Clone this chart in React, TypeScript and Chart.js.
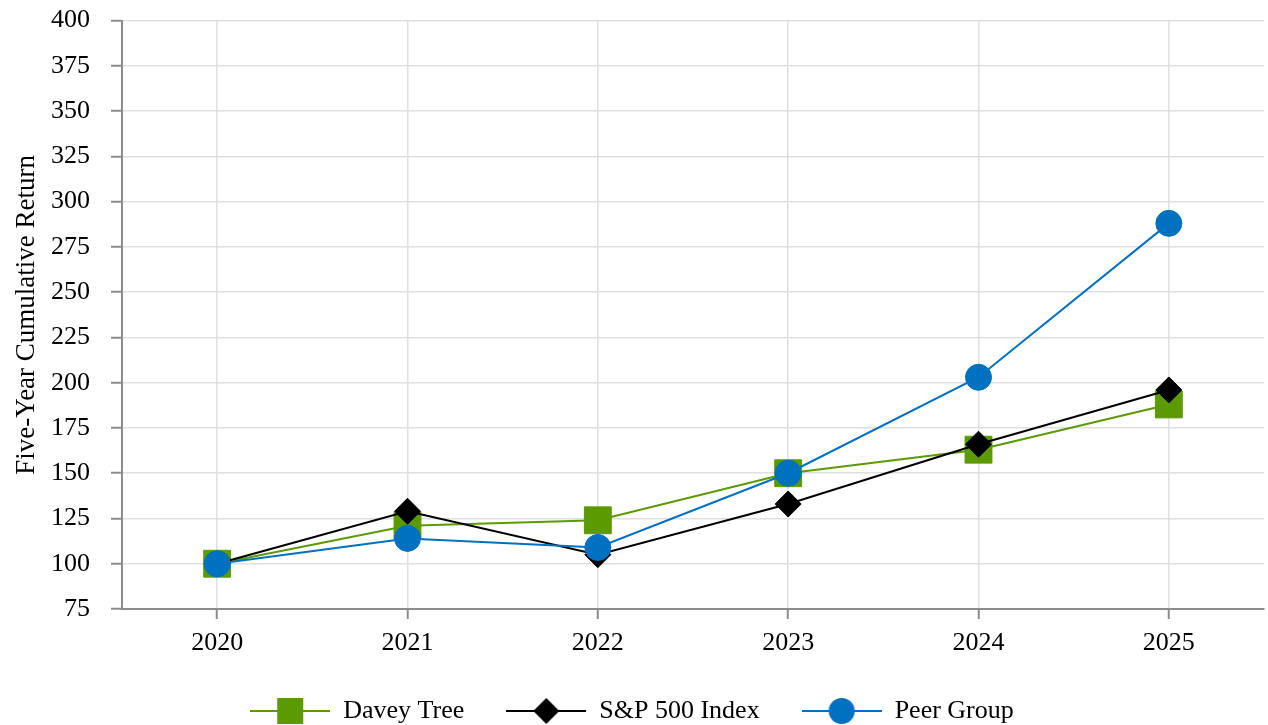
import React, { useEffect, useRef } from 'react';
import { Chart, registerables } from 'chart.js';

Chart.register(...registerables);

const years = ['2020', '2021', '2022', '2023', '2024', '2025'];
const daveyTree = [100, 121, 124, 150, 163, 188];
const sp500 = [100, 129, 105, 133, 166, 196];
const peerGroup = [100, 114, 109, 150, 203, 288];
const yMin = 75;
const yMax = 400;
const yStep = 25;
const seriesNames = ['Davey Tree', 'S&P 500 Index', 'Peer Group'];

const GREEN = '#5B9A00';
const BLACK = '#000000';
const BLUE = '#0070C0';
const FONT = "'Liberation Serif', 'Times New Roman', serif";

function makeIcon(color: string, style: string): HTMLCanvasElement {
  const c = document.createElement('canvas');
  c.width = 80;
  c.height = 28;
  const ctx = c.getContext('2d')!;
  ctx.strokeStyle = color;
  ctx.lineWidth = 2;
  ctx.beginPath();
  ctx.moveTo(0, 14);
  ctx.lineTo(80, 14);
  ctx.stroke();
  ctx.fillStyle = color;
  if (style === 'rect') {
    ctx.fillRect(27, 1, 26, 26);
  } else if (style === 'rectRot') {
    ctx.beginPath();
    ctx.moveTo(40, 1);
    ctx.lineTo(53, 14);
    ctx.lineTo(40, 27);
    ctx.lineTo(27, 14);
    ctx.closePath();
    ctx.fill();
  } else {
    ctx.beginPath();
    ctx.arc(40, 14, 13, 0, Math.PI * 2);
    ctx.fill();
  }
  return c;
}

export default function App() {
  const ref = useRef<HTMLCanvasElement | null>(null);

  useEffect(() => {
    if (!ref.current) return;
    const colors = [GREEN, BLACK, BLUE];
    const styles = ['rect', 'rectRot', 'circle'];
    const radii = [19, 13, 13];
    const values = [daveyTree, sp500, peerGroup];
    const icons = colors.map((c, i) => makeIcon(c, styles[i]));

    const chart = new Chart(ref.current, {
      type: 'line',
      data: {
        labels: years,
        datasets: values.map((v, i) => ({
          label: seriesNames[i],
          data: v,
          borderColor: colors[i],
          backgroundColor: colors[i],
          borderWidth: 2,
          pointStyle: styles[i] as any,
          pointRadius: radii[i],
          pointBorderWidth: 1,
          pointBackgroundColor: colors[i],
          pointBorderColor: colors[i],
          tension: 0,
          fill: false,
          clip: false as any,
          order: 3 - i,
        })),
      },
      options: {
        responsive: false,
        animation: false,
        layout: { autoPadding: false, padding: { top: 4, right: 4, left: 0, bottom: -9 } },
        plugins: {
          tooltip: { enabled: false },
          legend: {
            position: 'bottom',
            labels: {
              usePointStyle: true,
              pointStyleWidth: 80,
              padding: 42,
              color: '#000',
              font: { family: FONT, size: 26 },
              generateLabels: () =>
                seriesNames.map((n, i) => ({
                  text: n,
                  fillStyle: colors[i],
                  strokeStyle: colors[i],
                  lineWidth: 0,
                  pointStyle: icons[i] as any,
                  datasetIndex: i,
                  hidden: false,
                  fontColor: '#000',
                })),
            },
          },
        },
        scales: {
          x: {
            type: 'category',
            offset: true,
            afterFit: (scale: any) => {
              scale.height = 47;
            },
            grid: {
              offset: false,
              color: '#e0e0e0',
              lineWidth: 1.5,
              tickColor: '#8c8c8c',
              tickWidth: 2,
              tickLength: 10,
            },
            border: { color: '#8c8c8c', width: 2 },
            ticks: {
              color: '#000',
              padding: 9,
              font: { family: FONT, size: 26 },
              maxRotation: 0,
            },
          },
          y: {
            min: yMin,
            max: yMax,
            afterFit: (scale: any) => {
              scale.width = 122;
            },
            grid: {
              color: '#e0e0e0',
              lineWidth: 1.5,
              tickColor: '#8c8c8c',
              tickWidth: 2,
              tickLength: 11,
            },
            border: { color: '#8c8c8c', width: 2 },
            ticks: {
              stepSize: yStep,
              color: '#000',
              padding: 21,
              font: { family: FONT, size: 26 },
            },
            title: {
              display: true,
              text: 'Five-Year Cumulative Return',
              color: '#000',
              font: { family: FONT, size: 27 },
              padding: { top: 11, bottom: 9 },
            },
          },
        },
      },
    });
    return () => chart.destroy();
  }, []);

  return (
    <div style={{ position: 'fixed', left: 0, top: 0, width: 1268, height: 725, background: '#fff', overflow: 'hidden' }}>
      <canvas ref={ref} width={1268} height={741} style={{ display: 'block', marginTop: -16 }} />
    </div>
  );
}
